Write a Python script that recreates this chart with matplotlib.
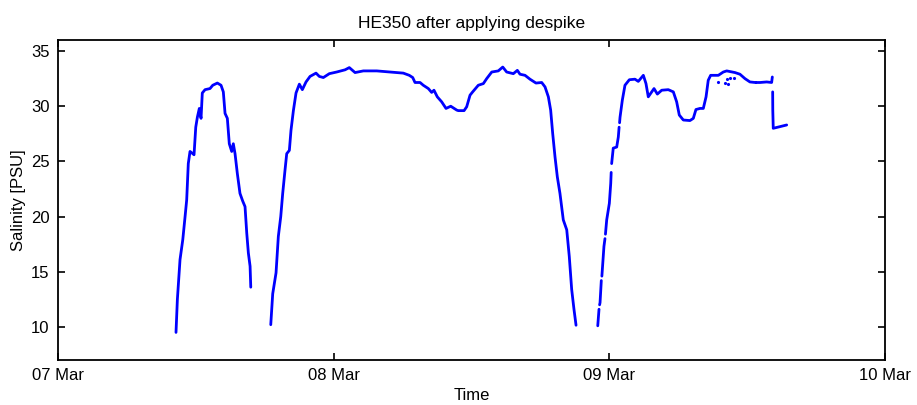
import numpy as np
import matplotlib
matplotlib.use("Agg")
import matplotlib.pyplot as plt
import matplotlib.dates as mdates

plt.rcParams["font.family"] = ["Liberation Sans", "DejaVu Sans"]

# time in hours after 07 Mar 00:00, salinity in PSU (NaN = dropped by despike)
hours_1 = [10.27, 10.39, 10.62, 10.86, 11.06, 11.20, 11.34, 11.49, 11.73, 11.84,
           11.99, 12.13, 12.30, 12.45, 12.56, 12.80, 13.23, 13.47, 13.87, 14.19,
           14.39, 14.54, 14.74, 14.91, 15.12, 15.26, 15.41, 15.61, 15.84, 16.08,
           16.28, 16.43, 16.57, 16.72, 16.78]
sal_1 = [9.5, 12.5, 16.1, 17.9, 20.0, 21.5, 24.8, 25.9, 25.7, 25.6,
         28.1, 29.0, 29.8, 28.9, 31.2, 31.5, 31.6, 31.9, 32.1, 31.9,
         31.3, 29.35, 28.9, 26.6, 25.9, 26.6, 25.7, 23.9, 22.1, 21.4,
         20.9, 18.5, 16.7, 15.5, 13.6]

hours_2 = [18.52, 18.69, 18.98, 19.18, 19.39, 19.56, 19.76, 19.91, 20.14, 20.28,
           20.49, 20.72, 21.01, 21.27, 21.59, 21.94, 22.46, 22.75, 23.10, 23.62,
           24.26, 24.99, 25.36, 25.86, 26.58, 27.75, 28.90, 30.06, 30.58, 30.88,
           31.08, 31.52, 31.80, 32.24, 32.53, 32.73, 33.02, 33.40, 33.78, 34.19,
           34.71, 34.85, 35.35, 35.58, 35.87, 36.10, 36.59, 37.03, 37.32, 37.76,
           38.33, 38.72, 39.06, 39.64, 39.99, 40.22, 40.66, 41.09, 41.61, 42.11,
           42.40, 42.69, 42.89, 43.07, 43.27, 43.47, 43.70, 43.99, 44.29, 44.51,
           44.72, 44.92, 45.10]
sal_2 = [10.2, 13.0, 14.9, 18.2, 20.0, 22.1, 24.2, 25.7, 26.0, 27.8,
         29.6, 31.2, 32.0, 31.5, 32.2, 32.7, 33.0, 32.7, 32.6, 32.95,
         33.1, 33.3, 33.5, 33.05, 33.2, 33.2, 33.1, 33.0, 32.8, 32.6,
         32.15, 32.15, 31.9, 31.6, 31.25, 31.45, 30.85, 30.4, 29.8, 30.0,
         29.65, 29.6, 29.6, 29.95, 31.0, 31.3, 31.9, 32.05, 32.5, 33.1,
         33.2, 33.55, 33.1, 32.95, 33.25, 32.9, 32.8, 32.45, 32.1, 32.15,
         31.75, 30.85, 29.65, 27.5, 25.4, 23.6, 22.1, 19.7, 18.8, 16.4,
         13.4, 11.6, 10.15]

hours_3 = [46.99, 47.10, np.nan, 47.15, 47.19, 47.30, np.nan, 47.35, 47.53, 47.62,
           np.nan, 47.66, 47.77, 48.00, 48.12, 48.16, np.nan, 48.20, 48.34, 48.64,
           48.78, 48.85, np.nan, 48.89, 48.93, 49.13, 49.36, 49.74, 50.23, 50.52,
           50.96, 51.19, 51.39, 51.69, 51.89, 52.18, 52.56, 53.13, 53.57, 53.86,
           54.09, 54.44, 55.02, 55.31, 55.54, 55.89, 56.18, 56.42, 56.61, 56.82,
           57.49, 57.92, 58.22, 58.94, 59.37, 59.81, 60.24, 60.70, np.nan, 60.80,
           61.12, 61.70, 62.13, 62.19, np.nan, 62.22, 62.23, 62.27, 62.86, 63.44]
sal_3 = [10.1, 11.6, np.nan, 12.0, 12.2, 14.2, np.nan, 14.6, 17.3, 18.0,
         np.nan, 18.4, 19.7, 21.2, 23.0, 24.0, np.nan, 24.8, 26.2, 26.3,
         27.2, 28.1, np.nan, 28.5, 29.0, 30.55, 31.9, 32.4, 32.45, 32.25,
         32.8, 32.05, 30.85, 31.3, 31.6, 31.1, 31.45, 31.5, 31.3, 30.4,
         29.2, 28.75, 28.7, 28.9, 29.7, 29.8, 29.8, 30.85, 32.35, 32.8,
         32.8, 33.1, 33.2, 33.05, 32.9, 32.5, 32.2, 32.15, np.nan, 32.15,
         32.15, 32.2, 32.15, 32.65, np.nan, 31.3, 29.65, 28.0, 28.15, 28.3]

# isolated points left scattered near the top on 09 Mar
hours_dots = [57.49, 58.07, 58.22, 58.36, 58.50, 58.85]
sal_dots = [32.2, 32.1, 32.5, 32.05, 32.6, 32.6]

start = np.datetime64("2014-03-07T00:00")


def to_time(hours):
    h = np.asarray(hours, dtype=float)
    return start + (np.nan_to_num(h) * 3600).astype("timedelta64[s]")


fig = plt.figure(figsize=(9.17, 4.05), dpi=100)
ax = fig.add_axes([0.0633, 0.1111, 0.9018, 0.7901])

for hrs, sal in [(hours_1, sal_1), (hours_2, sal_2), (hours_3, sal_3)]:
    ax.plot(to_time(hrs), np.asarray(sal, dtype=float), color="#0000ff", lw=2.0,
            solid_capstyle="round")
ax.plot(to_time(hours_dots), sal_dots, ".", color="#0000ff", ms=2.5)

ax.set_xlim(np.datetime64("2014-03-07"), np.datetime64("2014-03-10"))
ax.set_ylim(7, 36)
ax.set_yticks([10, 15, 20, 25, 30, 35])
ax.xaxis.set_major_locator(mdates.DayLocator())
ax.xaxis.set_major_formatter(mdates.DateFormatter("%d %b"))

ax.tick_params(direction="in", length=5, width=1.2, labelsize=12, pad=6,
               top=True, right=True)
for sp in ax.spines.values():
    sp.set_linewidth(1.3)

ax.set_xlabel("Time", fontsize=12, labelpad=3)
ax.set_ylabel("Salinity [PSU]", fontsize=12, labelpad=4)
ax.set_title("HE350 after applying despike", fontsize=12.5, pad=9)

fig.savefig("out.png", dpi=100)
